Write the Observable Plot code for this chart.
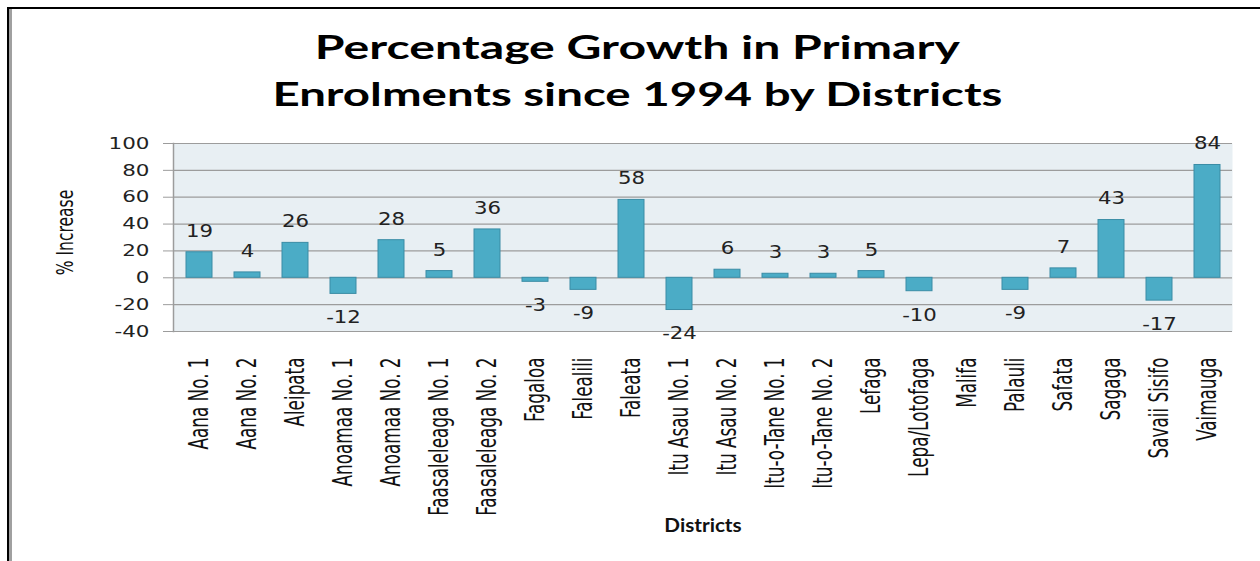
<!DOCTYPE html>
<html>
<head>
<meta charset="utf-8">
<script src="https://cdn.jsdelivr.net/npm/d3@7"></script>
<script src="https://cdn.jsdelivr.net/npm/@observablehq/plot@0.6"></script>
<style>
  html, body { margin: 0; padding: 0; background: #fff; }
  body { width: 1260px; height: 561px; position: relative; overflow: hidden; }
  #frame { position: absolute; left: 7px; top: 7px; width: 1260px; height: 560px;
           border-top: 2px solid #000; border-left: 2px solid #000; box-sizing: border-box; }
  #frame2 { position: absolute; left: 9px; top: 9px; width: 3px; height: 560px; background: #a0a0a0; }
  .tline { position: absolute; white-space: nowrap; font-family: Lato, "Open Sans", sans-serif;
           font-weight: bold; font-size: 32px; line-height: 32px; color: #000; transform-origin: center; }
  #chart { position: absolute; left: 0; top: 110px; }
</style>
</head>
<body>
<div id="frame"></div>
<div id="frame2"></div>
<div id="title"></div>
<div id="chart"></div>
<script>
// ---- data ----
const districts = ["Aana No. 1", "Aana No. 2", "Aleipata", "Anoamaa No. 1", "Anoamaa No. 2",
  "Faasaleleaga No. 1", "Faasaleleaga No. 2", "Fagaloa", "Falealili", "Faleata",
  "Itu Asau No. 1", "Itu Asau No. 2", "Itu-o-Tane No. 1", "Itu-o-Tane No. 2", "Lefaga",
  "Lepa/Lotofaga", "Malifa", "Palauli", "Safata", "Sagaga", "Savaii Sisifo", "Vaimauga"];
const growth = [19, 4, 26, -12, 28, 5, 36, -3, -9, 58, -24, 6, 3, 3, 5, -10, null, -9, 7, 43, -17, 84];
const yTicks = [-40, -20, 0, 20, 40, 60, 80, 100];
const titleLines = ["Percentage Growth in Primary", "Enrolments since 1994 by Districts"];
const yLabel = "% Increase";
const xLabel = "Districts";

const data = districts.map((d, i) => ({district: d, value: growth[i]}));
const present = data.filter(d => d.value != null);

// ---- title ----
const titleEl = document.getElementById("title");
const titleSpec = [{top: 31, width: 645}, {top: 78, width: 730}];
titleLines.forEach((t, i) => {
  const s = document.createElement("span");
  s.className = "tline";
  s.textContent = t;
  titleEl.appendChild(s);
  const w = s.getBoundingClientRect().width;
  s.style.left = (637 - w / 2) + "px";
  s.style.top = titleSpec[i].top + "px";
  s.style.transform = `scaleX(${titleSpec[i].width / w})`;
});

const narrow = '"Liberation Sans Narrow", "DejaVu Sans Condensed", "Arial Narrow", sans-serif';

const chart = Plot.plot({
  width: 1260,
  height: 440,
  marginTop: 33,
  marginBottom: 219,
  marginLeft: 173,
  marginRight: 28,
  style: {fontFamily: "DejaVu Sans, sans-serif", color: "#222", background: "transparent"},
  x: {domain: districts, type: "band", paddingInner: 0.46, paddingOuter: 0.23, label: null},
  y: {domain: [-40, 100], label: null},
  marks: [
    Plot.frame({fill: "#e8eff3", stroke: "none"}),
    Plot.gridY(yTicks, {stroke: "#9c9c9c", strokeOpacity: 1, strokeWidth: 1.2}),
    Plot.frame({anchor: "left", stroke: "#9c9c9c", strokeWidth: 1.5}),
    Plot.barY(present, {x: "district", y: "value", fill: "#4bacc6", stroke: "#3a8ca5", strokeWidth: 1}),
    Plot.text(present.filter(d => d.value >= 0), {x: "district", y: "value", text: d => String(d.value),
      dy: -21, fontSize: 17, fill: "#222", ariaDescription: "vlabels"}),
    Plot.text(present.filter(d => d.value < 0), {x: "district", y: "value", text: d => String(d.value),
      dy: 24, fontSize: 17, fill: "#222", ariaDescription: "vlabels"}),
    Plot.axisY(yTicks, {tickSize: 10, tickPadding: 14, stroke: "#9c9c9c", fill: "#222",
      fontSize: 16.5, tickFormat: d => String(d), label: null}),
    Plot.axisX({tickSize: 0, tickRotate: -90, tickPadding: 26, fontSize: 18.7, fontFamily: narrow,
      fill: "#111", label: null}),
    Plot.text([yLabel], {frameAnchor: "left", dx: -108, dy: -5, rotate: -90, fontSize: 17.3,
      textAnchor: "middle", lineAnchor: "middle",
      fontFamily: narrow, fill: "#111", ariaDescription: "ylabel"}),
    Plot.text([xLabel], {frameAnchor: "bottom", dy: 195, fontSize: 18, fontWeight: "bold",
      textAnchor: "middle", lineAnchor: "middle",
      fontFamily: "Lato, sans-serif", fill: "#111", ariaDescription: "xlabel"})
  ]
});
document.getElementById("chart").appendChild(chart);

// horizontal stretching of text, as in the reference
function stretch(el, sx, sy) {
  const t = el.getAttribute("transform");
  if (t && t.includes("translate")) el.setAttribute("transform", `${t} scale(${sx},${sy})`);
  else {
    const x = +el.getAttribute("x") || 0, y = +el.getAttribute("y") || 0;
    el.setAttribute("transform", `translate(${x},${y}) scale(${sx},${sy}) translate(${-x},${-y})`);
  }
}
chart.querySelectorAll('g[aria-label="y-axis tick label"] text').forEach(e => stretch(e, 1.3, 1));
chart.querySelectorAll('g[aria-description="vlabels"] text').forEach(e => stretch(e, 1.25, 1));
chart.querySelectorAll('g[aria-label="x-axis tick label"] text').forEach(e => stretch(e, 1, 1.4));
chart.querySelectorAll('g[aria-description="ylabel"] text').forEach(e => stretch(e, 1, 1.3));
chart.querySelectorAll('g[aria-description="xlabel"] text').forEach(e => stretch(e, 1.15, 1));
</script>
</body>
</html>
